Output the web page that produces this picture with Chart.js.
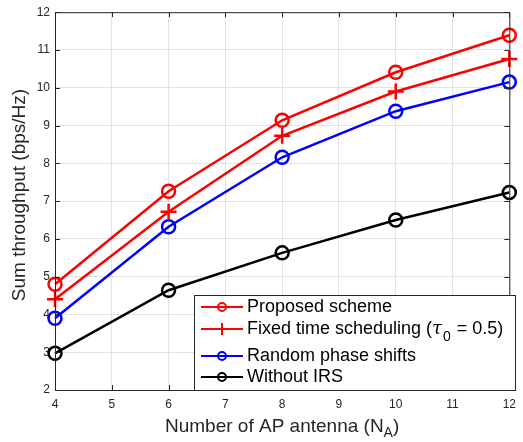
<!DOCTYPE html>
<html>
<head>
<meta charset="utf-8">
<script src="https://cdn.jsdelivr.net/npm/chart.js@4"></script>
<style>
  body { margin: 0; background: #fff; }
</style>
</head>
<body>
<canvas id="chart" width="523" height="442"></canvas>
<script>
const antennas = [4, 6, 8, 10, 12];
const proposed = [4.80, 7.26, 9.14, 10.41, 11.39];
const fixedTime = [4.40, 6.72, 8.73, 9.90, 10.76];
const randomPhase = [3.90, 6.32, 8.16, 9.38, 10.15];
const withoutIRS = [2.97, 4.64, 5.63, 6.50, 7.23];
const yTicks = [2, 3, 4, 5, 6, 7, 8, 9, 10, 11, 12];

const FONT = '"Liberation Sans", Arial, Helvetica, sans-serif';

function pts(vals) {
    return antennas.map((x, i) => ({ x: x, y: vals[i] }));
}

// box, inward ticks, axis titles and the legend
const decor = {
    id: 'decor',
    afterDatasetsDraw(chart) {
        const ctx = chart.ctx;
        const a = chart.chartArea;
        const xs = chart.scales.x, ys = chart.scales.y;
        ctx.save();
        ctx.strokeStyle = '#262626';
        ctx.lineWidth = 1;
        ctx.strokeRect(a.left + 0.5, a.top + 0.5, a.right - a.left, a.bottom - a.top);
        ctx.beginPath();
        for (let v = 4; v <= 12; v++) {
            const px = Math.round(xs.getPixelForValue(v)) + 0.5;
            ctx.moveTo(px, a.bottom); ctx.lineTo(px, a.bottom - 5);
            ctx.moveTo(px, a.top); ctx.lineTo(px, a.top + 5);
        }
        yTicks.forEach(v => {
            const py = Math.round(ys.getPixelForValue(v)) + 0.5;
            ctx.moveTo(a.left, py); ctx.lineTo(a.left + 5, py);
            ctx.moveTo(a.right, py); ctx.lineTo(a.right - 5, py);
        });
        ctx.stroke();

        // axis titles
        ctx.fillStyle = '#262626';
        ctx.textBaseline = 'alphabetic';
        ctx.textAlign = 'left';
        ctx.font = '14px ' + FONT;
        const wSub = ctx.measureText('A').width;
        ctx.font = '19px ' + FONT;
        const t1 = 'Number of AP antenna (N';
        const w1 = ctx.measureText(t1).width, w3 = ctx.measureText(')').width;
        const x0 = 165;
        const by = 432;
        ctx.fillText(t1, x0, by);
        ctx.font = '14px ' + FONT;
        ctx.fillText('A', x0 + w1, by + 5);
        ctx.font = '19px ' + FONT;
        ctx.fillText(')', x0 + w1 + wSub, by);

        ctx.save();
        ctx.translate(25, 195);
        ctx.rotate(-Math.PI / 2);
        ctx.textAlign = 'center';
        ctx.font = '19px ' + FONT;
        ctx.fillText('Sum throughput (bps/Hz)', 0, 0);
        ctx.restore();

        // legend
        const lx = 194, ly = 295, lw = 321, lh = 95;
        ctx.fillStyle = '#fff';
        ctx.fillRect(lx, ly, lw, lh);
        ctx.strokeStyle = '#262626';
        ctx.lineWidth = 1;
        ctx.strokeRect(lx + 0.5, ly + 0.5, lw, lh);
        const rows = [307, 329, 356, 377];
        chart.data.datasets.forEach((ds, i) => {
            const y = rows[i];
            ctx.strokeStyle = ds.borderColor;
            ctx.lineWidth = 2;
            ctx.beginPath();
            ctx.moveTo(201, y); ctx.lineTo(243, y);
            ctx.stroke();
            if (ds.pointStyle === 'cross') {
                ctx.beginPath();
                ctx.moveTo(222, y - 6); ctx.lineTo(222, y + 6);
                ctx.stroke();
            } else {
                ctx.beginPath();
                ctx.arc(222, y, 4, 0, Math.PI * 2);
                ctx.stroke();
            }
            ctx.fillStyle = '#000';
            ctx.textAlign = 'left';
            ctx.textBaseline = 'middle';
            ctx.font = '18px ' + FONT;
            if (i === 1) {
                const p1 = 'Fixed time scheduling (';
                let x = 247;
                ctx.fillText(p1, x, y);
                x += ctx.measureText(p1).width;
                ctx.font = 'italic 18px "DejaVu Serif", serif';
                ctx.fillText('τ', x, y);
                x += ctx.measureText('τ').width;
                ctx.font = '14px ' + FONT;
                ctx.fillText('0', x + 1, y + 8);
                x += ctx.measureText('0').width + 2;
                ctx.font = '18px ' + FONT;
                ctx.fillText(' = 0.5)', x, y);
            } else {
                ctx.fillText(ds.label, 247, y);
            }
        });
        ctx.restore();
    }
};

const lineDs = (label, vals, color, style) => ({
    label: label,
    data: pts(vals),
    borderColor: color,
    backgroundColor: 'transparent',
    borderWidth: 2.5,
    pointStyle: style,
    pointRadius: style === 'cross' ? 8 : 6.5,
    pointBorderWidth: 2.5,
    pointBackgroundColor: 'transparent',
    pointBorderColor: color,
    clip: false,
    tension: 0
});

new Chart(document.getElementById('chart'), {
    type: 'line',
    data: {
        datasets: [
            lineDs('Proposed scheme', proposed, '#ff0000', 'circle'),
            lineDs('Fixed time scheduling', fixedTime, '#ff0000', 'cross'),
            lineDs('Random phase shifts', randomPhase, '#0000ff', 'circle'),
            lineDs('Without IRS', withoutIRS, '#000000', 'circle')
        ]
    },
    options: {
        responsive: false,
        animation: false,
        devicePixelRatio: 1,
        layout: { padding: { top: 6, right: 5, left: 0, bottom: 0 } },
        plugins: { legend: { display: false }, tooltip: { enabled: false } },
        scales: {
            x: {
                type: 'linear',
                min: 4, max: 12,
                afterFit(s) { s.height = 52; },
                ticks: { stepSize: 1, padding: 7, color: '#262626', font: { size: 12, family: FONT } },
                grid: { color: '#e3e3e3', drawTicks: false },
                border: { display: false }
            },
            y: {
                min: 2, max: 12,
                afterFit(s) { s.width = 55; },
                afterBuildTicks(s) { s.ticks = yTicks.map(v => ({ value: v })); },
                ticks: { padding: 5, color: '#262626', font: { size: 12, family: FONT } },
                grid: { color: '#e3e3e3', drawTicks: false },
                border: { display: false }
            }
        }
    },
    plugins: [decor]
});
</script>
</body>
</html>
